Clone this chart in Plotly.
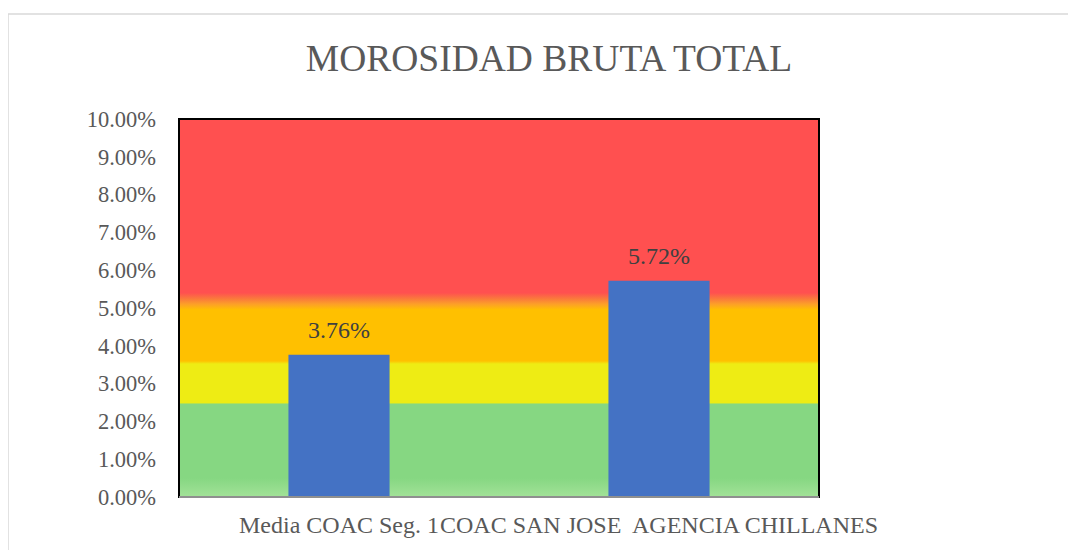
import plotly.graph_objects as go

categories = ["Media COAC Seg. 1", "COAC SAN JOSE  AGENCIA CHILLANES"]
values = [0.0376, 0.0572]
y_ticks = [0.00, 0.01, 0.02, 0.03, 0.04, 0.05, 0.06, 0.07, 0.08, 0.09, 0.10]
y_tick_labels = ["0.00%", "1.00%", "2.00%", "3.00%", "4.00%", "5.00%",
                 "6.00%", "7.00%", "8.00%", "9.00%", "10.00%"]

# background risk bands (fraction of 0..10% range, color)
band_stops = [0.0, 0.05, 0.245, 0.25, 0.352, 0.36, 0.495, 0.51, 0.525, 0.54, 1.0]
band_colors = ["rgb(162,226,152)", "rgb(134,215,130)", "rgb(134,215,130)",
               "rgb(238,236,20)", "rgb(238,236,20)", "rgb(255,192,0)",
               "rgb(255,192,0)", "rgb(252,160,40)", "rgb(250,120,60)",
               "rgb(255,80,80)", "rgb(255,80,80)"]

x_pos = list(range(len(categories)))
x_lo, x_hi = -0.5, len(categories) - 0.5
y_lo, y_hi = y_ticks[0], y_ticks[-1]

# page offset (default body margin) and plot area in screen pixels
OFF = 8
PL, PR, PT, PB = 179, 819, 119, 497
W, H = 1076, 550
ml, mt = PL - OFF, PT - OFF
pw, ph = PR - PL, PB - PT
mr, mb = W - ml - pw, H - mt - ph

fig = go.Figure()
fig.add_trace(go.Scatter(
    x=[x_lo, x_hi, x_hi, x_lo, x_lo],
    y=[y_lo, y_lo, y_hi, y_hi, y_lo],
    mode="none", fill="toself",
    fillgradient=dict(type="vertical",
                      colorscale=[[s, c] for s, c in zip(band_stops, band_colors)]),
    hoverinfo="skip", showlegend=False,
))
fig.add_trace(go.Bar(
    x=x_pos, y=values, width=0.316, xaxis="x2", yaxis="y2",
    marker=dict(color="#4472C4", line=dict(width=0)),
    showlegend=False,
))
for xp, v in zip(x_pos, values):
    fig.add_annotation(x=xp, y=v, xref="x2", yref="y2", text=f"{v*100:.2f}%",
                       showarrow=False, yanchor="bottom", yshift=10,
                       font=dict(family="Liberation Serif", size=24, color="#404040"))

fig.add_shape(type="rect", xref="paper", yref="paper", x0=0, x1=1, y0=0, y1=1,
              line=dict(color="black", width=2))
fig.add_shape(type="line", xref="paper", yref="paper", x0=0, x1=1, y0=0, y1=0,
              line=dict(color="#BFBFBF", width=1.5))
# outer chart border
bx, by = 8, 14
fig.add_shape(type="rect", xref="paper", yref="paper",
              x0=(bx - PL) / pw, x1=(1200 - PL) / pw,
              y0=(PB - 700) / ph, y1=(PB - by) / ph,
              line=dict(color="#D9D9D9", width=1.5), layer="below")

axis_common = dict(showgrid=False, zeroline=False, showline=False, ticks="",
                   fixedrange=True, automargin=False)
fig.update_layout(
    width=W, height=H,
    margin=dict(l=ml, r=mr, t=mt, b=mb, autoexpand=False),
    paper_bgcolor="white", plot_bgcolor="white",
    title=dict(text="MOROSIDAD BRUTA TOTAL", x=(549 - OFF) / W, xref="container",
               xanchor="center", y=(H - (58 - OFF)) / H, yanchor="middle",
               font=dict(family="Liberation Serif", size=37.5, color="#595959")),
    font=dict(family="Liberation Serif", size=22, color="#595959"),
    xaxis=dict(range=[x_lo, x_hi], tickvals=x_pos, ticktext=categories,
               tickangle=0, tickfont=dict(size=24), ticklabelstandoff=11,
               **axis_common),
    yaxis=dict(range=[y_lo, y_hi], tickvals=y_ticks, ticktext=y_tick_labels,
               tickfont=dict(size=22.5), ticklabelstandoff=22, **axis_common),
    xaxis2=dict(range=[x_lo, x_hi], overlaying="x", visible=False, **axis_common),
    yaxis2=dict(range=[y_lo, y_hi], overlaying="y", visible=False, **axis_common),
)

fig.write_html("out.html")
